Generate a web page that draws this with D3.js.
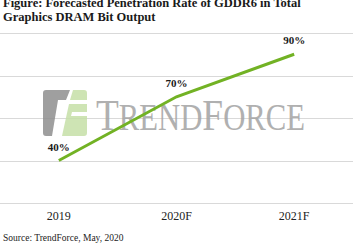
<!DOCTYPE html>
<html><head><meta charset="utf-8">
<script src="https://cdn.jsdelivr.net/npm/d3@7"></script>
<style>html,body{margin:0;padding:0;background:#fff;}svg{display:block;}</style>
</head><body>
<script>
const categories = ["2019", "2020F", "2021F"];
const values = [40, 70, 90];
const valueLabels = ["40%", "70%", "90%"];
const gridTicks = [20, 40, 60, 80, 100];
const titleLines = ["Figure: Forecasted Penetration Rate of GDDR6 in Total", "Graphics DRAM Bit Output"];
const sourceText = "Source: TrendForce, May, 2020";
const watermarkParts = [["T", 45], ["REND", 37], ["F", 45], ["ORCE", 37]];

const W = 359, H = 250;
const svg = d3.select("body").append("svg").attr("width", W).attr("height", H);
const serif = "'Liberation Serif', 'Times New Roman', serif";

const x = d3.scaleBand().domain(categories).range([0, 353]);
const y = d3.scaleLinear().domain([20, 100]).range([203, 33]);

// gridlines
svg.append("g").selectAll("line").data(gridTicks).join("line")
  .attr("x1", 0).attr("x2", 353)
  .attr("y1", d => Math.round(y(d)) + 0.5).attr("y2", d => Math.round(y(d)) + 0.5)
  .attr("stroke", "#d9d9d9").attr("stroke-width", 1);

// watermark logo
const wm = svg.append("g").attr("opacity", 0.85);
wm.append("path")
  .attr("d", "M46,90 L70,90 L66,100 L58,100 L52,136 L46,136 Q43,136 43,133 L43,93 Q43,90 46,90 Z")
  .attr("fill", "#8f8f8f");
wm.append("path")
  .attr("d", "M73,90 L84,90 Q87,90 87,93 L87,100 L70,100 Z M69,104 L87,104 L87,112 L72,112 L71,116 L87,116 L87,133 Q87,136 84,136 L62,136 Z")
  .attr("fill", "#c6e0a8");
const wmg = wm.append("g");
let cx = 0;
watermarkParts.forEach(([t, fs]) => {
  const el = wmg.append("text").attr("x", cx).attr("y", 0)
    .attr("font-family", serif).attr("font-size", fs).attr("fill", "#a3a3a3").text(t);
  cx += el.node().getComputedTextLength();
});
const sx = 209 / cx;
wmg.attr("transform", `translate(96,130) scale(${sx},1)`);

// line
const line = d3.line().x((d, i) => x(categories[i]) + x.bandwidth() / 2).y(d => y(d));
svg.append("path").datum(values)
  .attr("d", line).attr("fill", "none")
  .attr("stroke", "#72b224").attr("stroke-width", 3);

// data labels
svg.append("g").selectAll("text").data(values).join("text")
  .attr("x", (d, i) => x(categories[i]) + x.bandwidth() / 2)
  .attr("y", d => y(d) - 10)
  .attr("text-anchor", "middle")
  .attr("font-family", serif).attr("font-weight", "bold").attr("font-size", 11)
  .attr("fill", "#1a1a1a")
  .text((d, i) => valueLabels[i]);

// x axis labels
const xAxis = d3.axisBottom(x).tickSize(0).tickPadding(0);
const gx = svg.append("g").attr("transform", "translate(0,211)").call(xAxis);
gx.select(".domain").remove();
gx.selectAll("text").attr("font-family", serif).attr("font-size", 12).attr("fill", "#222").attr("dy", "0.71em");

// title
svg.append("g").selectAll("text").data(titleLines).join("text")
  .attr("x", 3).attr("y", (d, i) => 7 + i * 14)
  .attr("font-family", serif).attr("font-weight", "bold").attr("font-size", 12.5)
  .attr("fill", "#1a1a1a")
  .text(d => d);

// source
svg.append("text").attr("x", 3).attr("y", 241)
  .attr("font-family", serif).attr("font-size", 9.5).attr("fill", "#222")
  .text(sourceText);
</script>
</body></html>
